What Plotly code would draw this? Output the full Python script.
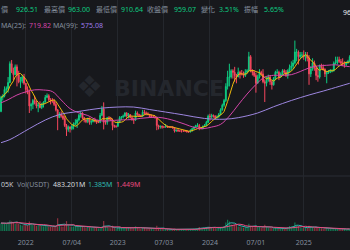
import pandas as pd
import plotly.graph_objects as go

# ---------------- data (weekly candles) ----------------
first_week = "2021-09-27"
first_open = 340
close = [430, 440, 480, 485, 525, 645, 595, 575, 625, 575, 530, 535, 560, 520,
         480, 465, 375, 385, 410, 395, 375, 380, 365, 385, 400, 430, 440, 415, 410, 405, 385, 350,
         300, 320, 310, 295, 250, 225, 240, 230,
         245, 260, 265, 285, 315, 330, 300, 285, 275, 295, 270, 275, 285, 280, 270, 270, 315, 355,
         270, 270, 300, 290, 285, 250, 245, 245,
         270, 300, 305, 310, 330, 310, 320, 300, 290, 285, 330, 320, 315, 310, 335, 330, 325, 320, 305, 305, 305, 300,
         250, 240, 245, 240, 240, 245, 240, 240, 240, 235, 215, 220, 215, 215, 215, 215, 215, 210, 210, 220, 230, 240,
         250, 250, 230, 230, 245, 250, 270, 310,
         305, 315, 310, 300, 305, 320, 350, 380, 410, 500, 560, 560, 600, 590, 570, 560, 590, 580, 580, 570, 590, 600,
         690, 600, 590, 570,
         520, 560, 590, 580, 530, 520, 540, 560, 530, 510, 550, 590, 590, 560, 580, 600, 590, 570, 600, 620, 630, 650,
         720, 720, 690, 700, 700,
         690, 700, 680, 580, 610, 650, 620, 570, 560, 630, 620, 610, 580, 590, 590, 600, 600, 650, 650, 670, 660, 650,
         640, 640, 650, 660, 690]
high = [440, 450, 500, 500, 560, 660, 669, 620, 640, 640, 600, 560, 575, 580,
        520, 500, 480, 395, 420, 440, 410, 395, 405, 395, 405, 445, 455, 450, 425, 425, 420, 400,
        355, 335, 340, 320, 310, 260, 250, 245,
        255, 270, 290, 295, 325, 340, 335, 305, 290, 300, 300, 285, 295, 300, 285, 280, 330, 375,
        398, 285, 305, 310, 305, 295, 255, 250,
        280, 310, 310, 320, 335, 335, 330, 320, 310, 300, 345, 340, 325, 320, 350, 350, 340, 335, 325, 320, 315, 310,
        305, 255, 250, 250, 245, 260, 250, 245, 245, 245, 240, 225, 230, 220, 220, 220, 220, 220, 215, 225, 235, 245,
        255, 265, 260, 240, 250, 260, 280, 320,
        325, 325, 320, 315, 315, 330, 360, 390, 420, 520, 600, 645, 610, 610, 625, 580, 620, 600, 605, 595, 610, 610,
        721, 700, 610, 600,
        585, 575, 610, 600, 610, 545, 560, 575, 570, 540, 560, 600, 610, 600, 590, 610, 610, 605, 610, 640, 660, 670,
        793, 740, 730, 720, 720,
        730, 720, 720, 700, 630, 680, 665, 630, 610, 640, 645, 640, 615, 600, 605, 610, 610, 660, 690, 690, 690, 675,
        680, 660, 660, 670, 700]
low = [335, 410, 430, 455, 460, 520, 585, 540, 570, 500, 520, 490, 520, 510,
       455, 450, 330, 345, 355, 385, 360, 335, 360, 355, 365, 395, 425, 405, 385, 395, 375, 340,
       220, 300, 300, 285, 240, 183, 210, 205,
       220, 225, 250, 235, 275, 300, 290, 270, 265, 265, 255, 255, 270, 270, 260, 265, 265, 310,
       225, 255, 255, 280, 280, 220, 235, 235,
       240, 265, 285, 295, 305, 300, 295, 295, 280, 260, 280, 310, 305, 305, 305, 320, 315, 315, 300, 300, 300, 295,
       220, 225, 230, 230, 235, 235, 235, 235, 235, 230, 205, 210, 210, 210, 205, 210, 210, 205, 203, 205, 210, 225,
       235, 240, 220, 225, 225, 240, 245, 265,
       280, 295, 300, 290, 295, 300, 315, 345, 370, 400, 480, 500, 550, 550, 530, 520, 560, 550, 570, 555, 560, 585,
       600, 590, 570, 560,
       460, 520, 550, 570, 520, 400, 500, 530, 510, 480, 505, 540, 580, 540, 560, 570, 580, 560, 550, 590, 600, 610,
       640, 660, 640, 680, 680,
       670, 660, 660, 510, 560, 600, 600, 540, 530, 550, 610, 600, 560, 520, 580, 585, 590, 595, 640, 640, 650, 640,
       630, 620, 630, 645, 655]
volume = [2.4, 2.2, 2.5, 2.3, 2.6, 3.2, 2.9, 2.4, 2.2, 2.8, 2.3, 1.9, 1.7, 1.8,
          1.9, 1.7, 2.9, 2.4, 1.8, 1.9, 1.6, 2.0, 1.8, 1.5, 1.4, 1.6, 1.7, 1.4, 1.3, 1.2, 1.3, 1.6,
          3.9, 1.8, 1.4, 1.3, 1.9, 3.0, 1.7, 1.4,
          1.3, 1.4, 1.6, 1.5, 1.4, 1.5, 1.4, 1.1, 1.0, 1.2, 1.1, 1.0, 0.9, 1.0, 0.9, 0.8, 1.1, 1.4,
          3.0, 1.4, 1.1, 0.9, 0.8, 1.6, 0.9, 0.6,
          1.0, 1.3, 1.0, 1.0, 1.1, 1.0, 1.1, 0.9, 0.8, 1.1, 1.4, 1.0, 0.8, 0.7, 0.9, 0.9, 0.7, 0.7, 0.7, 0.6, 0.5, 0.5,
          1.6, 1.0, 0.7, 0.6, 0.5, 0.6, 0.5, 0.4, 0.4, 0.4, 0.7, 0.5, 0.5, 0.4, 0.4, 0.4, 0.4, 0.4, 0.4, 0.5, 0.6, 0.7,
          0.8, 0.8, 1.2, 0.9, 0.9, 1.0, 1.1, 1.4,
          1.3, 1.1, 0.9, 0.9, 0.8, 0.9, 1.2, 1.3, 1.5, 2.6, 3.4, 2.9, 2.0, 1.7, 1.9, 1.8, 1.4, 1.3, 1.1, 1.0, 1.1, 1.0,
          2.2, 1.6, 1.2, 1.1,
          1.6, 1.3, 1.2, 1.0, 1.1, 1.9, 1.2, 1.0, 0.9, 0.9, 0.8, 0.9, 0.8, 0.8, 0.7, 0.8, 0.8, 0.8, 1.1, 1.5, 1.4, 1.5,
          2.6, 1.7, 1.5, 1.0, 0.9,
          1.1, 1.0, 1.0, 1.6, 1.3, 1.2, 1.0, 1.1, 1.0, 1.0, 0.8, 0.7, 0.8, 1.0, 0.7, 0.6, 0.6, 0.8, 0.8, 0.7, 0.7, 0.6,
          0.6, 0.6, 0.5, 0.6, 0.6]

# moving averages (week index -> value)
ma25_idx = [0, 4, 9, 14, 19, 24, 29, 34, 39, 44, 49, 54, 59, 64, 69, 74, 79, 84, 89, 94, 99, 104, 109, 114,
            119, 124, 129, 134, 139, 144, 149, 154, 159, 164, 169, 174, 179, 184, 189, 194, 197]
ma25_val = [395, 415, 445, 465, 478, 477, 467, 413, 358, 331, 314, 286, 278, 283, 286, 288, 296, 301, 302, 293,
            277, 258, 238, 230, 240, 257, 310, 382, 451, 512, 560, 571, 571, 575, 595, 618, 631, 635, 638, 630, 626]
ma99_idx = [0, 5, 16, 25, 33, 44, 56, 66, 75, 84, 93, 103, 115, 126, 134, 145, 154, 164, 174, 182, 191, 197]
ma99_val = [140, 160, 230, 285, 320, 340, 360, 368, 368, 352, 336, 318, 295, 290, 300, 330, 370, 410, 445, 470,
            500, 520]

tick_dates = ["2022-01-03", "2022-07-04", "2023-01-02", "2023-07-03", "2024-01-01", "2024-07-01",
              "2025-01-06", "2025-07-07"]
tick_text = ["2022", "07/04", "2023", "07/03", "2024", "07/01", "2025", "07/07"]

# header texts (only the parts visible in the cropped view at the edges)
header_labels = ["價", "最高價", "最低價", "收盤價", "變化", "振幅"]
header_values = ["926.51", "963.00", "910.64", "959.07", "3.51%", "5.65%"]
ma_labels = ["MA(25):", "MA(99):"]
ma_values = ["719.82", "575.08"]
vol_texts = ["05K", "Vol(USDT)", "483.201M", "1.385M", "1.449M"]
last_price_tag = "96"

# ---------------- build ----------------
dates = pd.date_range(first_week, periods=len(close), freq="7D")
opens = [first_open] + close[:-1]
ma7 = pd.Series(close).rolling(7, min_periods=1).mean()
vol_s = pd.Series(volume)
vma5 = vol_s.rolling(5, min_periods=1).mean()
vma10 = vol_s.rolling(10, min_periods=1).mean()

GREEN = "#0ecb81"
RED = "#f6465d"
GREY = "#848e9c"
BG = "#17181c"
FONT = "Noto Sans, Noto Sans CJK TC, sans-serif"

up = [c >= o for o, c in zip(opens, close)]
vol_colors = ["rgba(14,203,129,0.55)" if u else "rgba(246,70,93,0.55)" for u in up]

fig = go.Figure()
fig.add_trace(go.Candlestick(
    x=dates, open=opens, high=high, low=low, close=close,
    increasing=dict(line=dict(color=GREEN, width=1), fillcolor=GREEN),
    decreasing=dict(line=dict(color=RED, width=1), fillcolor=RED),
    whiskerwidth=0, hoverinfo="skip"))
fig.add_trace(go.Scatter(x=dates, y=ma7, mode="lines", line=dict(color="#f0b90b", width=1)))
fig.add_trace(go.Scatter(x=dates[ma25_idx], y=ma25_val, mode="lines",
                         line=dict(color="#d445a8", width=1, shape="spline")))
fig.add_trace(go.Scatter(x=dates[ma99_idx], y=ma99_val, mode="lines",
                         line=dict(color="#9d86e0", width=1, shape="spline")))

fig.add_trace(go.Bar(x=dates, y=volume, marker=dict(color=vol_colors, line=dict(width=0)), yaxis="y2"))
fig.add_trace(go.Scatter(x=dates, y=vma5, mode="lines", line=dict(color="#2fb8b0", width=1), yaxis="y2"))
fig.add_trace(go.Scatter(x=dates, y=vma10, mode="lines", line=dict(color="#e84a7f", width=1), yaxis="y2"))

H = 231.0  # plot-area height in px
W = 350.0


def px(xp, yp):
    return xp / W, (H - yp) / H


ann = []


def text(s, xp, yp, color, size=7, anchor="left", family=FONT):
    x, y = px(xp, yp)
    ann.append(dict(text=s, x=x, y=y, xref="paper", yref="paper", xanchor=anchor, yanchor="middle",
                    showarrow=False, font=dict(color=color, size=size, family=family), borderpad=0))


label_x = [0, 43, 95, 146, 200, 243]
value_x = [15, 67, 120, 173, 218, 263]
for s, xp in zip(header_labels, label_x):
    text(s, xp, 10, GREY)
for s, xp in zip(header_values, value_x):
    text(s, xp, 10, GREEN)

text(ma_labels[0], 0, 25, GREY)
text(ma_values[0], 28, 25, "#d445a8")
text(ma_labels[1], 52, 25, GREY)
text(ma_values[1], 80, 25, "#9d7bea")

text(vol_texts[0], 0, 184, "#c8ccd2")
text(vol_texts[1], 16, 184, GREY)
text(vol_texts[2], 52, 184, "#d5d8dc")
text(vol_texts[3], 87, 184, "#2fb8b0")
text(vol_texts[4], 115, 184, "#e84a7f")

# watermark
text("BINANCE", 169, 88, "#24272d", size=22, anchor="center", family="DejaVu Sans")
ann[-1]["font"]["weight"] = "bold"
text("❖", 89, 86, "#24272d", size=30, anchor="center", family="DejaVu Sans")

# last price tag, cut by the crop at the right edge
text(last_price_tag, 342, 12, "#eaecef")

slope = 0.1564
top_p = 164.6 / slope
bot_p = (164.6 - H) / slope

fig.update_layout(
    width=350, height=250, margin=dict(l=0, r=0, t=0, b=19),
    paper_bgcolor=BG, plot_bgcolor=BG, showlegend=False, bargap=0.35,
    annotations=ann,
    shapes=[dict(type="line", xref="paper", yref="paper", x0=0, x1=1, y0=(H - 176) / H, y1=(H - 176) / H,
                 line=dict(color="#2a2d34", width=1), layer="below")],
    xaxis=dict(type="date", range=["2021-09-23", "2025-07-08"], rangeslider=dict(visible=False),
               showgrid=True, gridcolor="#24272d", gridwidth=1, zeroline=False, showline=False,
               tickvals=tick_dates, ticktext=tick_text, ticks="",
               tickfont=dict(color=GREY, size=7, family=FONT), ticklabelstandoff=6),
    yaxis=dict(range=[bot_p, top_p], visible=False, showgrid=False, zeroline=False),
    yaxis2=dict(range=[0, 70], overlaying="y", visible=False, showgrid=False, zeroline=False),
)

fig.write_html("out.html")
